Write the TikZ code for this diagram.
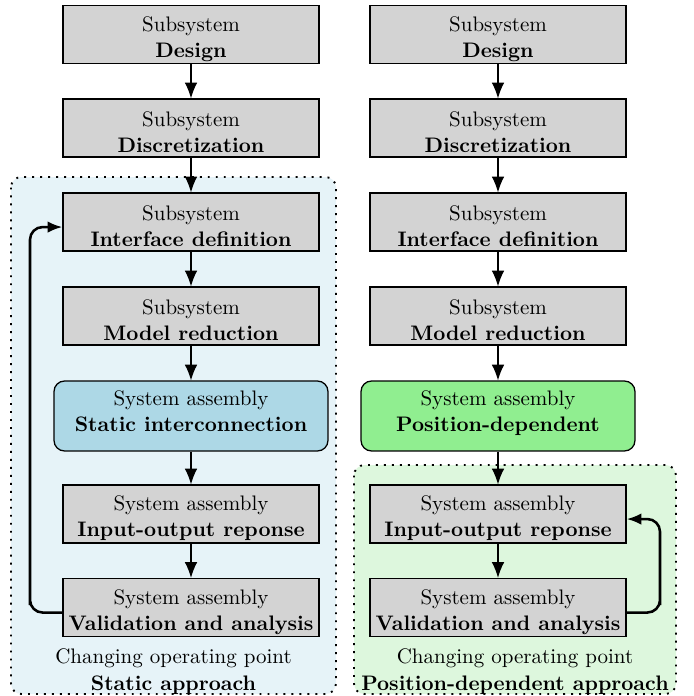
\documentclass[tikz,border=0pt]{standalone}
\usetikzlibrary{arrows.meta}
\definecolor{boxgray}{HTML}{D3D3D3}
\definecolor{lblue}{HTML}{ADD8E6}
\definecolor{lgreen}{HTML}{90EE90}
\definecolor{bgblue}{HTML}{E6F3F8}
\definecolor{bggreen}{HTML}{DDF7DD}
\newcommand\tstr{\rule{0pt}{11.2pt}}
\newcommand\bstr{\rule[-4.8pt]{0pt}{0pt}}
\begin{document}
\begin{tikzpicture}[x=0.476pt,y=-0.476pt,
  stepbox/.style={draw,semithick,fill=boxgray,minimum width=121.9pt,minimum height=27.6pt,align=center,inner sep=0pt},
  asmbox/.style={draw,semithick,rounded corners=5pt,minimum width=130.4pt,minimum height=33.3pt,align=center,inner sep=0pt},
  flow/.style={semithick,-{Latex[length=7.5pt,width=6pt]}},
  loop/.style={very thick,rounded corners=6pt,-{Latex[length=7pt,width=5.5pt]}},
  region/.style={line width=0.9pt,dash pattern=on 0.9pt off 2.9pt,rounded corners=5pt},
  lab/.style={align=center,inner sep=0pt}]
\useasboundingbox (0,0) rectangle (694,696);
% regions
\draw[region,fill=bgblue] (11,177) rectangle (336,694);
\draw[region,fill=bggreen] (354,465) rectangle (676,694);
% left column
\node[stepbox] (l1) at (191,34.5) {\tstr Subsystem\\[0.5pt]\textbf{Design}};
\node[stepbox] (l2) at (191,128) {\tstr Subsystem\\[0.5pt]\textbf{Discretization}};
\node[stepbox] (l3) at (191,222) {\tstr Subsystem\\[0.5pt]\textbf{Interface definition}};
\node[stepbox] (l4) at (191,316) {\tstr Subsystem\\[0.5pt]\textbf{Model reduction}};
\node[asmbox,fill=lblue] (l5) at (191,416) {System assembly\\[0.5pt]\textbf{Static interconnection}\bstr};
\node[stepbox] (l6) at (191,514) {\tstr System assembly\\[0.5pt]\textbf{Input-output reponse}};
\node[stepbox] (l7) at (191,607.5) {\tstr System assembly\\[0.5pt]\textbf{Validation and analysis}};
% right column
\node[stepbox] (r1) at (498,34.5) {\tstr Subsystem\\[0.5pt]\textbf{Design}};
\node[stepbox] (r2) at (498,128) {\tstr Subsystem\\[0.5pt]\textbf{Discretization}};
\node[stepbox] (r3) at (498,222) {\tstr Subsystem\\[0.5pt]\textbf{Interface definition}};
\node[stepbox] (r4) at (498,316) {\tstr Subsystem\\[0.5pt]\textbf{Model reduction}};
\node[asmbox,fill=lgreen] (r5) at (498,416) {System assembly\\[0.5pt]\textbf{Position-dependent}\bstr};
\node[stepbox] (r6) at (498,514) {\tstr System assembly\\[0.5pt]\textbf{Input-output reponse}};
\node[stepbox] (r7) at (498,607.5) {\tstr System assembly\\[0.5pt]\textbf{Validation and analysis}};
% region labels
\node[lab] (ll) at (173.5,671.5) {Changing operating point\\[1pt]\textbf{Static approach}};
\node[lab] (rl) at (515,671.5) {Changing operating point\\[1pt]\textbf{Position-dependent approach}};
% flows
\foreach \a/\b in {l1/l2,l2/l3,l3/l4,l4/l5,l5/l6,l6/l7,r1/r2,r2/r3,r3/r4,r4/r5,r5/r6,r6/r7}
  \draw[flow] (\a) -- (\b);
% feedback loops
\coordinate (lfa) at ([yshift=-2.4pt]l7.west);
\coordinate (lfb) at ([yshift=-2.4pt]l3.west);
\draw[loop] (lfa) -| (30,0 |- lfa) |- (lfb);
\coordinate (rfa) at ([yshift=-2.4pt]r7.east);
\coordinate (rfb) at ([yshift=-2.4pt]r6.east);
\draw[loop] (rfa) -| (660,0 |- rfa) |- (rfb);
\end{tikzpicture}
\end{document}
